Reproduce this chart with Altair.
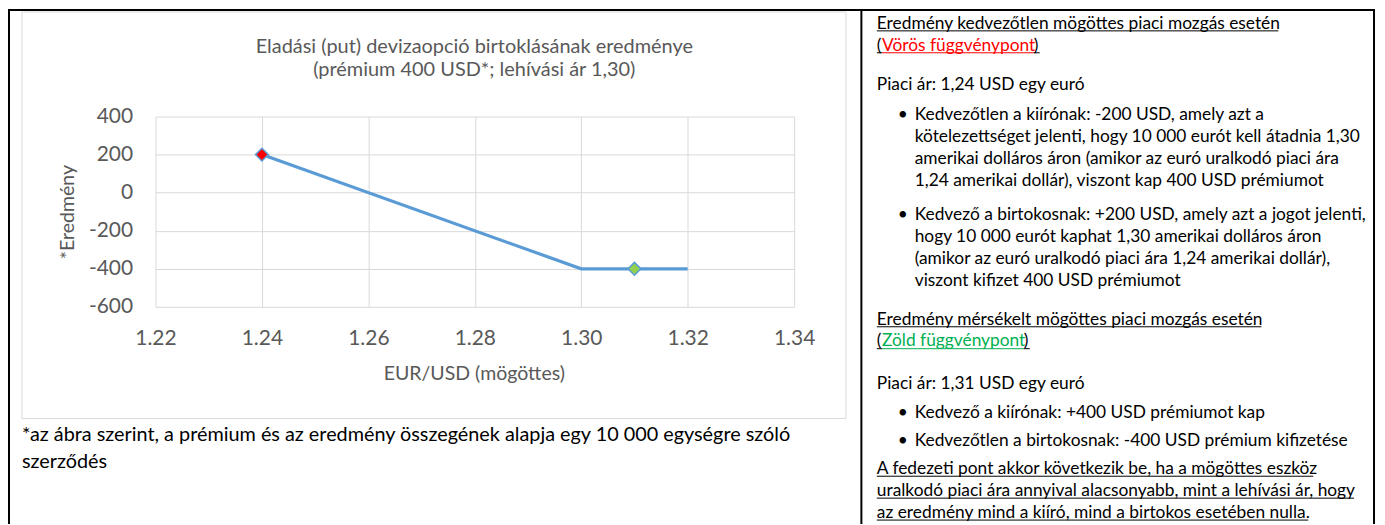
import altair as alt
import pandas as pd

# ---------------- data ----------------
line_x = [1.24, 1.30, 1.31, 1.32]
line_y = [200, -400, -400, -400]
marker_x = [1.24, 1.31]
marker_y = [200, -400]
marker_fill = ["#FF0000", "#92D050"]
x_ticks = [1.22, 1.24, 1.26, 1.28, 1.30, 1.32, 1.34]
y_ticks = [-600, -400, -200, 0, 200, 400]

title_lines = ["Eladási (put) devizaopció birtoklásának eredménye",
               "(prémium 400 USD*; lehívási ár 1,30)"]
x_title = "EUR/USD (mögöttes)"
y_title = "*Eredmény"
footnote_lines = ["*az ábra szerint, a prémium és az eredmény összegének alapja egy 10 000 egységre szóló",
                  "szerződés"]

head1 = "Eredmény kedvezőtlen mögöttes piaci mozgás esetén"
red_label = "Vörös függvénypont"
price1 = "Piaci ár: 1,24 USD egy euró"
bullet1 = ["Kedvezőtlen a kiírónak: -200 USD, amely azt a",
           "kötelezettséget jelenti, hogy 10 000 eurót kell átadnia 1,30",
           "amerikai dolláros áron (amikor az euró uralkodó piaci ára",
           "1,24 amerikai dollár), viszont kap 400 USD prémiumot"]
bullet2 = ["Kedvező a birtokosnak: +200 USD, amely azt a jogot jelenti,",
           "hogy 10 000 eurót kaphat 1,30 amerikai dolláros áron",
           "(amikor az euró uralkodó piaci ára 1,24 amerikai dollár),",
           "viszont kifizet 400 USD prémiumot"]
head2 = "Eredmény mérsékelt mögöttes piaci mozgás esetén"
green_label = "Zöld függvénypont"
price2 = "Piaci ár: 1,31 USD egy euró"
bullet3 = ["Kedvező a kiírónak: +400 USD prémiumot kap"]
bullet4 = ["Kedvezőtlen a birtokosnak: -400 USD prémium kifizetése"]
conclusion = ["A fedezeti pont akkor következik be, ha a mögöttes eszköz",
              "uralkodó piaci ára annyival alacsonyabb, mint a lehívási ár, hogy",
              "az eredmény mind a kiíró, mind a birtokos esetében nulla."]

# ---------------- layout (page pixels) ----------------
OX, OY = 156, 116          # plot origin on the page
W, H = 641, 191            # plot area
SVG_W, SVG_H = 1374, 517
FONT = "Lato"
GRAY = "#595959"
BLUE = "#5B9BD5"

def vx(px):
    return px - OX

def vy(py):
    return py - OY

one = pd.DataFrame({"k": [0]})

def rule(x1, y1, x2, y2, color="black", width=2):
    return alt.Chart(one).mark_rule(color=color, strokeWidth=width).encode(
        x=alt.value(vx(x1)), x2=alt.value(vx(x2)),
        y=alt.value(vy(y1)), y2=alt.value(vy(y2)))

def text_block(lines, x, centers, size, color="black", align="left"):
    df = pd.DataFrame({"t": lines,
                       "px": [vx(x)] * len(lines),
                       "py": [vy(c) + size * 0.33 for c in centers]})
    return alt.Chart(df).mark_text(align=align, baseline="alphabetic", font=FONT,
                                   fontSize=size, color=color).encode(
        x=alt.X("px:Q", scale=None, axis=None),
        y=alt.Y("py:Q", scale=None, axis=None),
        text="t:N")

layers = []

# chart frame
layers.append(alt.Chart(one).mark_rect(fillOpacity=0, stroke="#D9D9D9", strokeWidth=1).encode(
    x=alt.value(vx(22)), x2=alt.value(vx(849)), y=alt.value(vy(11)), y2=alt.value(vy(419))))

# plot
xs = alt.Scale(domain=[1.22, 1.34], nice=False, zero=False)
ys = alt.Scale(domain=[-600, 400], nice=False, zero=False)
line_df = pd.DataFrame({"x": line_x, "y": line_y})
mk_df = pd.DataFrame({"x": marker_x, "y": marker_y, "c": marker_fill})

x_axis = alt.Axis(
    values=x_ticks, tickCount=20, format=".2f", title=None, grid=True, gridColor="#D9D9D9",
    gridWidth=1, domain=False, ticks=False, labelFont=FONT, labelFontSize=21, labelColor=GRAY,
    labelPadding=21, labelFlush=False, labelOverlap=False)
y_axis = alt.Axis(
    values=y_ticks, tickCount=10, labelExpr="'' + datum.value", title=None, grid=True,
    gridColor="#D9D9D9", gridWidth=1, domain=False, ticks=False, labelFont=FONT,
    labelFontSize=21, labelColor=GRAY, labelPadding=23, labelOverlap=False)

layers.append(alt.Chart(line_df).mark_line(color=BLUE, strokeWidth=3.2).encode(
    x=alt.X("x:Q", scale=xs, axis=x_axis), y=alt.Y("y:Q", scale=ys, axis=y_axis)))
layers.append(alt.Chart(mk_df).mark_point(shape="diamond", filled=True, size=165, stroke=BLUE,
                                          strokeWidth=1.5, opacity=1).encode(
    x=alt.X("x:Q", scale=xs, axis=x_axis), y=alt.Y("y:Q", scale=ys, axis=y_axis),
    fill=alt.Fill("c:N", scale=None)))

# chart texts
layers.append(text_block(title_lines, 476, [46, 69], 20, color=GRAY, align="center"))
layers.append(text_block([x_title], 476, [374], 19.6, color=GRAY, align="center"))
layers.append(alt.Chart(one).mark_text(align="center", baseline="middle", font=FONT, fontSize=19.6,
                                       color=GRAY, angle=270).encode(
    x=alt.value(vx(68)), y=alt.value(vy(212)), text=alt.value(y_title)))
layers.append(text_block(footnote_lines, 22, [435, 462], 19.9))

# table borders
layers.append(rule(8, 9, 1380, 9))
layers.append(rule(9, 8, 9, 525))
layers.append(rule(864.5, 8, 864.5, 525))
layers.append(rule(1379, 8, 1379, 525))

# right column text
FS = 17.4
HX, BX, TX = 880, 901, 918
LX = 885.2            # start of coloured label after "("
RED_END, GREEN_END = 1037.5, 1027.5
layers.append(text_block([head1], HX, [22], FS))
layers.append(text_block(["("], HX, [44], FS))
layers.append(text_block([red_label], LX, [44], FS, color="#FF0000"))
layers.append(text_block([")"], RED_END, [44], FS))
layers.append(text_block([price1], HX, [84], FS))
layers.append(text_block(["•", "•"], BX, [114, 214], FS))
layers.append(text_block(bullet1, TX, [114, 136, 158, 180], FS))
layers.append(text_block(bullet2, TX, [214, 236, 258, 280], FS))
layers.append(text_block([head2], HX, [319], FS))
layers.append(text_block(["("], HX, [341], FS))
layers.append(text_block([green_label], LX, [341], FS, color="#00B050"))
layers.append(text_block([")"], GREEN_END, [341], FS))
layers.append(text_block([price2], HX, [384], FS))
layers.append(text_block(["•", "•"], BX, [413, 441], FS))
layers.append(text_block(bullet3 + bullet4, TX, [413, 441], FS))
layers.append(text_block(conclusion, HX, [469, 491, 513], FS))

# underlines
UL = 8
layers.append(rule(HX, 22 + UL, 1283, 22 + UL, width=1))
layers.append(rule(HX, 44 + UL, LX, 44 + UL, width=1))
layers.append(rule(LX, 44 + UL, RED_END, 44 + UL, color="#FF0000", width=1))
layers.append(rule(RED_END, 44 + UL, RED_END + 6, 44 + UL, width=1))
layers.append(rule(HX, 319 + UL, 1266, 319 + UL, width=1))
layers.append(rule(HX, 341 + UL, LX, 341 + UL, width=1))
layers.append(rule(LX, 341 + UL, GREEN_END, 341 + UL, color="#00B050", width=1))
layers.append(rule(GREEN_END, 341 + UL, GREEN_END + 6, 341 + UL, width=1))
for c, e in zip([469, 491, 513], [1318, 1359, 1313]):
    layers.append(rule(HX, c + UL, e, c + UL, width=1))

chart = alt.layer(*layers).properties(
    width=W, height=H,
    padding={"left": OX - 8, "top": OY - 8, "right": SVG_W - (OX - 8) - W,
             "bottom": SVG_H - (OY - 8) - H},
    autosize=alt.AutoSizeParams(type="none"),
    background="white",
).configure_view(stroke=None)

chart.save("out.html", embed_options={"renderer": "svg", "actions": False})
